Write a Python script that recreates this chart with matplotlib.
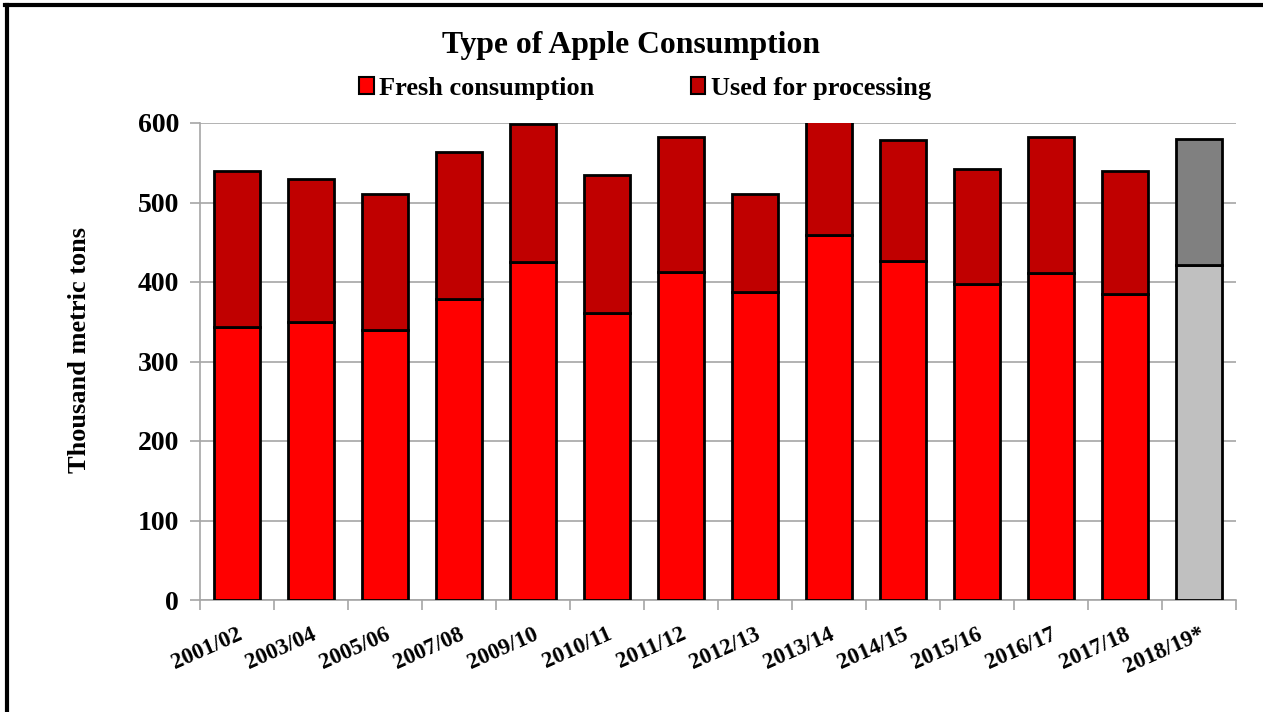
import matplotlib
matplotlib.use("Agg")
import matplotlib.pyplot as plt
from matplotlib.patches import Patch
from matplotlib.lines import Line2D

categories = ["2001/02", "2003/04", "2005/06", "2007/08", "2009/10", "2010/11",
              "2011/12", "2012/13", "2013/14", "2014/15", "2015/16", "2016/17",
              "2017/18", "2018/19*"]
fresh = [343, 350, 339, 379, 425, 361, 412, 388, 459, 427, 397, 411, 385, 421]
processing = [197, 180, 172, 184, 174, 173, 170, 123, 166, 152, 145, 171, 155, 159]

fresh_colors = ["#FF0000"] * 13 + ["#C0C0C0"]
proc_colors = ["#C00000"] * 13 + ["#808080"]

plt.rcParams['font.family'] = ['Liberation Serif', 'DejaVu Serif']
plt.rcParams['font.weight'] = 'bold'

fig = plt.figure(figsize=(12.63, 7.12), dpi=100)
ax = fig.add_axes([200/1263, 1-600/712, (1236-200)/1263, (600-123)/712])

x = list(range(len(categories)))
ax.bar(x, fresh, width=0.61, color=fresh_colors, edgecolor="black", linewidth=2, zorder=3)
ax.bar(x, processing, bottom=fresh, width=0.61, color=proc_colors, edgecolor="black",
       linewidth=2, zorder=3)

ax.set_xlim(-0.5, len(categories) - 0.5)
ax.set_ylim(0, 600)
ax.set_yticks(range(0, 601, 100))
ax.yaxis.grid(True, color="#A6A6A6", linewidth=1.2, zorder=0)
ax.set_axisbelow(True)
for s in ["top", "right"]:
    ax.spines[s].set_visible(False)
for s in ["left", "bottom"]:
    ax.spines[s].set_color("#A6A6A6")
    ax.spines[s].set_linewidth(1.2)

ax.set_xticks(x)
ax.set_xticklabels(categories, rotation=24, ha="right", rotation_mode="anchor",
                   fontsize=16.5, fontweight="bold")
ax.set_xticks([i - 0.5 for i in range(len(categories) + 1)], minor=True)
ax.tick_params(axis="x", which="major", length=0, pad=17)
ax.tick_params(axis="x", which="minor", length=7, color="#A6A6A6", width=1.2)
ax.tick_params(axis="y", length=7, color="#A6A6A6", width=1.2, labelsize=20, pad=8)
for lab in ax.get_yticklabels():
    lab.set_fontweight("bold")

fig.text(80/1263, 1-350/712, "Thousand metric tons", rotation=90, ha="center",
         va="center", fontsize=19, fontweight="bold")

fig.text(631/1263, 1-45/712, "Type of Apple Consumption", ha="center", va="center",
         fontsize=22.8, fontweight="bold")

handles = [Patch(facecolor="#FF0000", edgecolor="black", linewidth=1.5),
           Patch(facecolor="#C00000", edgecolor="black", linewidth=1.5)]
fig.legend(handles, ["Fresh consumption", "Used for processing"], loc="center",
           bbox_to_anchor=(645/1263, 1-88/712), ncol=2, frameon=False,
           prop={"family": "Liberation Serif", "weight": "bold", "size": 19},
           handlelength=0.55, handleheight=0.6, handletextpad=0.2, columnspacing=3.65)

fig.add_artist(Line2D([6.5/1263, 6.5/1263], [0, 1-4.5/712], color="black", linewidth=3,
                      transform=fig.transFigure))
fig.add_artist(Line2D([5/1263, 1], [1-4.5/712, 1-4.5/712], color="black", linewidth=3,
                      transform=fig.transFigure))

fig.savefig("out.png", dpi=100)
